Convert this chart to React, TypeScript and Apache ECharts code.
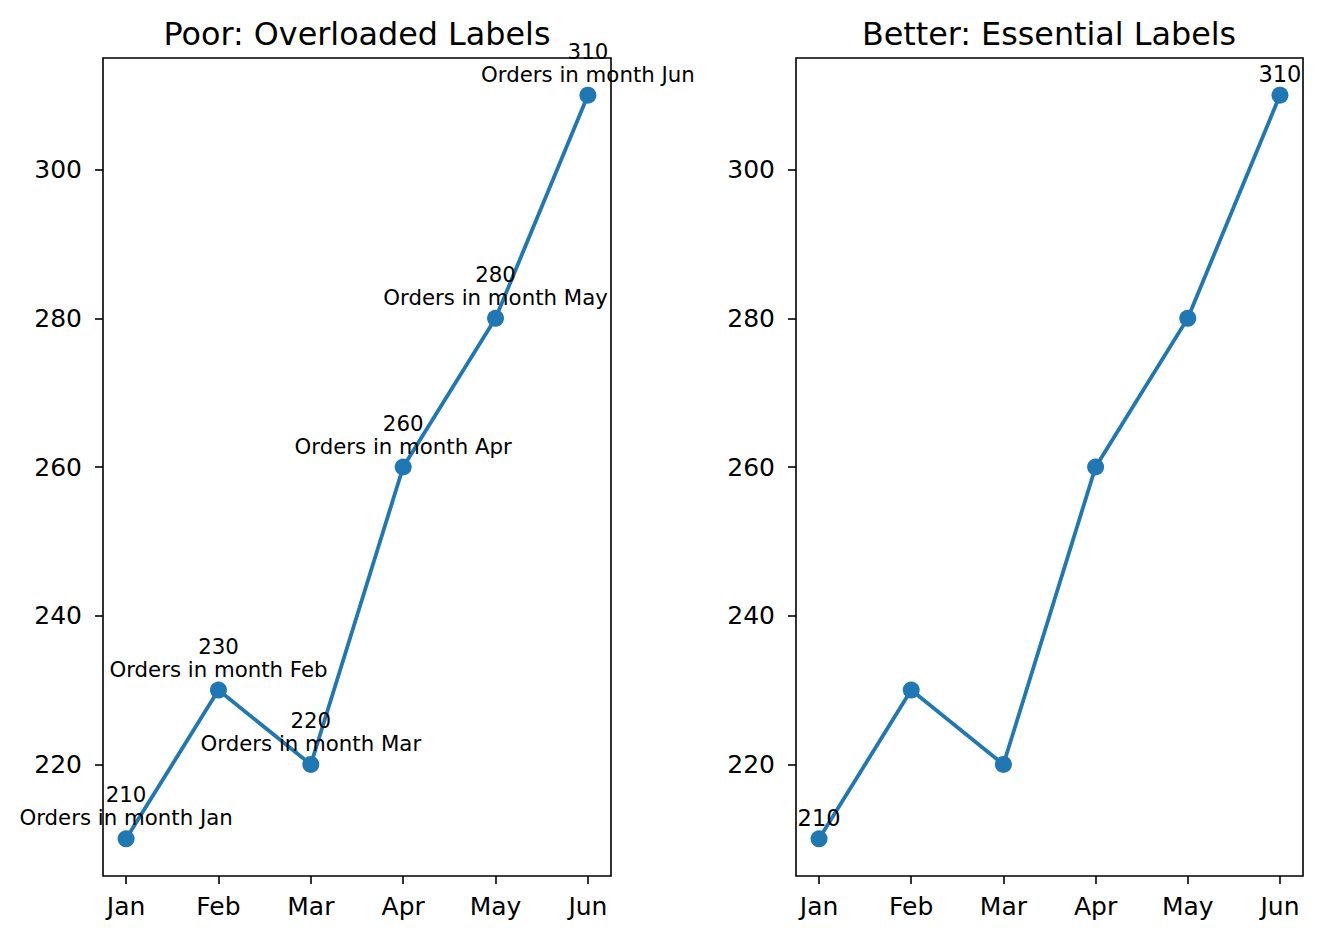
import React, { useEffect, useRef } from "react";
import * as echarts from "echarts";

const months: string[] = ["Jan", "Feb", "Mar", "Apr", "May", "Jun"];
const orders: number[] = [210, 230, 220, 260, 280, 310];
const yTicks: number[] = [220, 240, 260, 280, 300];
const titles: string[] = ["Poor: Overloaded Labels", "Better: Essential Labels"];

const FONT = "DejaVu Sans";
const BLUE = "#1f77b4";

export default function App() {
  const ref = useRef<HTMLDivElement>(null);
  useEffect(() => {
    if (!ref.current) return;
    const chart = echarts.init(ref.current, undefined, { renderer: "svg" });
    const xIdx = months.map((_, i) => i);
    const grids = [
      { left: 103, right: 711, top: 58, bottom: 64 },
      { left: 796, right: 19, top: 58, bottom: 64 },
    ];
    const mkX = (gi: number) => ({
      type: "value",
      gridIndex: gi,
      min: -0.25,
      max: 5.25,
      splitLine: { show: false },
      axisLine: { show: false, onZero: false },
      axisTick: {
        show: true,
        customValues: xIdx,
        length: 8,
        lineStyle: { color: "#000", width: 1.6 },
      },
      axisLabel: {
        customValues: xIdx,
        formatter: (v: number) => months[Math.round(v)] ?? "",
        color: "#000",
        fontFamily: FONT,
        fontSize: 25,
        margin: 18,
      },
    });
    const mkY = (gi: number) => ({
      type: "value",
      gridIndex: gi,
      min: 205,
      max: 315,
      splitLine: { show: false },
      axisLine: { show: false, onZero: false },
      axisTick: {
        show: true,
        customValues: yTicks,
        length: 8,
        lineStyle: { color: "#000", width: 1.6 },
      },
      axisLabel: {
        customValues: yTicks,
        color: "#000",
        fontFamily: FONT,
        fontSize: 25,
        margin: 21,
      },
    });
    const leftData = orders.map((v, i) => [i, v]);
    const rightData = orders.map((v, i) => ({
      value: [i, v],
      label: { show: i === 0 || i === orders.length - 1 },
    }));
    chart.setOption({
      animation: false,
      title: titles.map((t, i) => ({
        text: t,
        left: i === 0 ? 352 : 1044,
        top: 12,
        textAlign: "center",
        textStyle: { fontFamily: FONT, fontSize: 31.8, fontWeight: "normal", color: "#000" },
      })),
      grid: grids.map((g) => ({
        ...g,
        show: true,
        borderColor: "#000",
        borderWidth: 1.6,
        backgroundColor: "transparent",
      })),
      xAxis: [mkX(0), mkX(1)],
      yAxis: [mkY(0), mkY(1)],
      series: [
        {
          type: "line",
          xAxisIndex: 0,
          yAxisIndex: 0,
          data: leftData,
          symbol: "circle",
          symbolSize: 17,
          lineStyle: { color: BLUE, width: 3.8 },
          itemStyle: { color: BLUE },
          label: {
            show: true,
            position: "top",
            distance: 1,
            align: "center",
            formatter: (p: any) =>
              `${orders[p.dataIndex]}\nOrders in month ${months[p.dataIndex]}`,
            fontFamily: FONT,
            fontSize: 21.3,
            lineHeight: 23,
            color: "#000",
          },
        },
        {
          type: "line",
          xAxisIndex: 1,
          yAxisIndex: 1,
          data: rightData,
          symbol: "circle",
          symbolSize: 17,
          lineStyle: { color: BLUE, width: 3.8 },
          itemStyle: { color: BLUE },
          label: {
            show: false,
            position: "top",
            distance: 1,
            formatter: (p: any) => `${orders[p.dataIndex]}`,
            fontFamily: FONT,
            fontSize: 22.5,
            color: "#000",
          },
        },
      ],
    });
    return () => chart.dispose();
  }, []);
  return (
    <div
      ref={ref}
      style={{ position: "absolute", left: 0, top: 0, width: 1322, height: 940 }}
    />
  );
}
